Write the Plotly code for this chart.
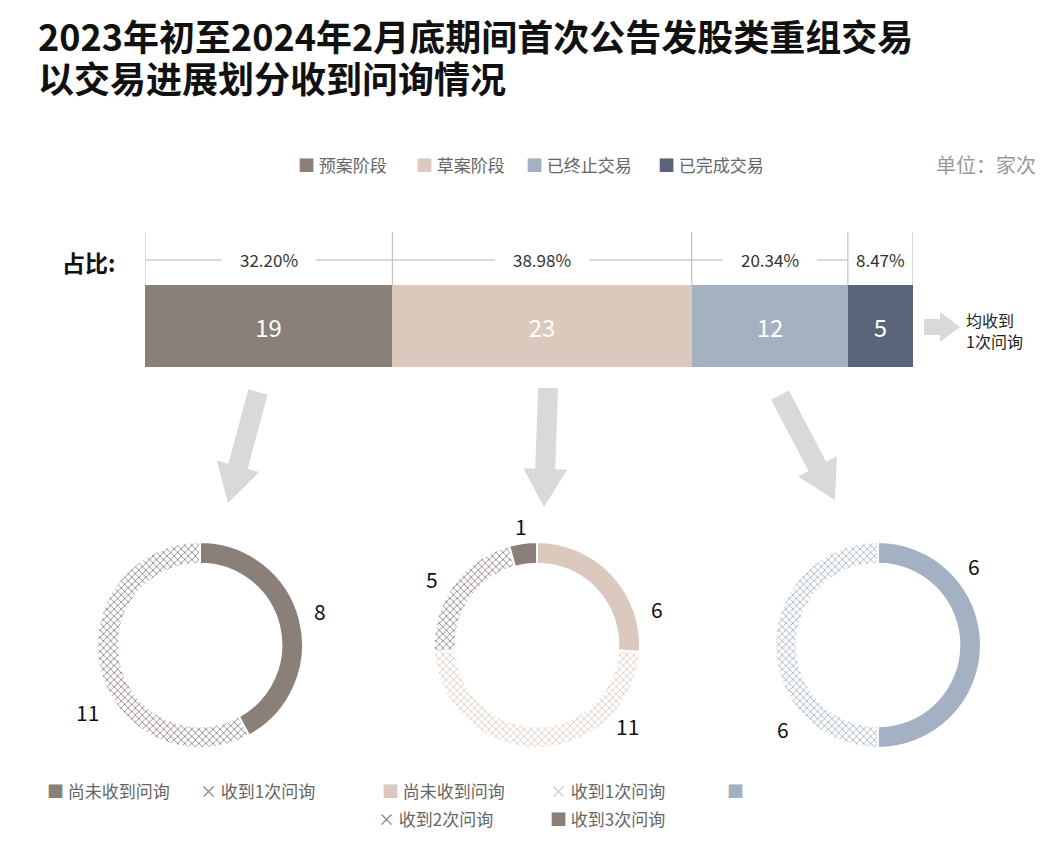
import numpy as np
import plotly.graph_objects as go

W, H = 1059, 843

# data
stages = ['预案阶段', '草案阶段', '已终止交易', '已完成交易']
stage_counts = [19, 23, 12, 5]
stage_pcts = ['32.20%', '38.98%', '20.34%', '8.47%']
stage_colors = ['#8b7f7a', '#dac9bc', '#a3b1c2', '#5a6479']

d1_labels = ['尚未收到问询', '收到1次问询']
d1_values = [8, 11]
d2_labels = ['尚未收到问询', '收到1次问询', '收到2次问询', '收到3次问询']
d2_values = [6, 11, 5, 1]
d3_labels = ['收到1次问询', '收到1次问询 ']
d3_values = [6, 6]

OFF = 8  # page body margin


def px_x(x):
    return (x - OFF) / W


def px_y(y):
    return 1 - (y - OFF) / H


fig = go.Figure()

# stacked bar
for name, v, c in zip(stages, stage_counts, stage_colors):
    fig.add_trace(go.Bar(x=[v], y=[0], orientation='h', marker=dict(color=c, line=dict(width=0)),
                         text=[str(v)], textposition='inside', insidetextanchor='middle',
                         textfont=dict(color='white', size=24), name=name, showlegend=False,
                         width=1, hoverinfo='skip'))

total = sum(stage_counts)
fig.update_layout(barmode='stack', bargap=0,
                  xaxis=dict(domain=[px_x(145), px_x(913)], range=[0, total], visible=False, fixedrange=True),
                  yaxis=dict(domain=[px_y(367), px_y(285)], range=[-0.5, 0.5], visible=False, fixedrange=True))

shapes = []
annotations = []
bounds = np.concatenate([[0], np.cumsum(stage_counts)])
for b in bounds:
    shapes.append(dict(type='line', xref='x', yref='paper', x0=b, x1=b, y0=px_y(232), y1=px_y(285),
                       line=dict(color='#b5b5b5', width=1)))
for i, p in enumerate(stage_pcts):
    mid = (bounds[i] + bounds[i + 1]) / 2
    gap = 3.6 if stage_counts[i] > 6 else 0
    if gap:
        shapes.append(dict(type='line', xref='x', yref='paper', x0=bounds[i], x1=mid - gap,
                           y0=px_y(260), y1=px_y(260), line=dict(color='#b5b5b5', width=1)))
        shapes.append(dict(type='line', xref='x', yref='paper', x0=mid + gap, x1=bounds[i + 1],
                           y0=px_y(260), y1=px_y(260), line=dict(color='#b5b5b5', width=1)))
    annotations.append(dict(xref='x', yref='paper', x=mid, y=px_y(260), text=p, showarrow=False,
                            xanchor='center', yanchor='middle', font=dict(size=17, color='#333')))


def arrow(x0, y0, x1, y1, w=14, hw=30, hl=32):
    d = np.array([x1 - x0, y1 - y0], float)
    L = np.hypot(*d)
    u = d / L
    n = np.array([-u[1], u[0]])
    s = np.array([x0, y0])
    b = s + u * (L - hl)
    e = np.array([x1, y1])
    pts = [s + n * w / 2, b + n * w / 2, b + n * hw / 2, e, b - n * hw / 2, b - n * w / 2, s - n * w / 2]
    return 'M ' + ' L '.join(f'{px_x(p[0]):.4f},{px_y(p[1]):.4f}' for p in pts) + ' Z'


for a in [(258, 392, 228, 503, 20, 44, 38), (548, 388, 544, 507, 20, 44, 38),
          (780, 395, 835, 500, 20, 44, 38), (924, 327, 960, 327, 16, 30, 20)]:
    shapes.append(dict(type='path', xref='paper', yref='paper', path=arrow(*a),
                       fillcolor='#d9d9d9', line=dict(width=0)))


# donuts
def donut(values, labels, colors, patterns, fgs, cx, cy, label_frac, label_r, r=103):
    fig.add_trace(go.Pie(values=values, labels=labels, sort=False, direction='clockwise', rotation=0,
                         hole=0.79, domain=dict(x=[px_x(cx - r), px_x(cx + r)], y=[px_y(cy + r), px_y(cy - r)]),
                         marker=dict(colors=colors, line=dict(color='white', width=2),
                                     pattern=dict(shape=patterns, fgcolor=fgs, bgcolor='white',
                                                  size=5, solidity=0.3)),
                         textinfo='none', showlegend=False, hoverinfo='label+value'))
    tot = sum(values)
    start = 0
    for v, f, rr in zip(values, label_frac, label_r):
        ang = np.radians((start + v * f) / tot * 360)
        start += v
        annotations.append(dict(x=px_x(cx + rr * np.sin(ang)), y=px_y(cy - rr * np.cos(ang)), text=str(v),
                                xanchor='center', yanchor='middle', font=dict(size=21, color='#111')))


donut(d1_values, d1_labels, ['#8b7f7a', 'white'], ['', 'x'], ['#8b7f7a', '#8b7f7a'], 200, 645,
      [0.49, 0.42], [125, 131])
donut(d2_values, d2_labels, ['#dac9bc', 'white', 'white', '#8b7f7a'], ['', 'x', 'x', ''],
      ['#dac9bc', '#dac9bc', '#8b7f7a', '#8b7f7a'], 537, 645, [0.78, 0.22, 0.46, 0.5], [125, 121, 124, 120])
donut(d3_values, d3_labels, ['#a3b1c2', 'white'], ['', 'x'], ['#a3b1c2', '#a3b1c2'], 878, 645,
      [0.28, 0.27], [124, 127])

# text
annotations += [
    dict(x=px_x(36), y=px_y(35), text='<b>2023年初至2024年2月底期间首次公告发股类重组交易</b>', xanchor='left',
         font=dict(size=36, color='#111')),
    dict(x=px_x(36), y=px_y(77), text='<b>以交易进展划分收到问询情况</b>', xanchor='left',
         font=dict(size=36, color='#111')),
    dict(x=px_x(60), y=px_y(262), text='<b>占比:</b>', xanchor='left', font=dict(size=23, color='#111')),
    dict(x=px_x(1038), y=px_y(165), text='单位：家次', xanchor='right', font=dict(size=20, color='#999')),
    dict(x=px_x(964), y=px_y(330), text='均收到<br>1次问询', xanchor='left', align='left',
         font=dict(size=16, color='#222')),
]

top_leg = [(296, '#8b7f7a', '预案阶段'), (414, '#dac9bc', '草案阶段'), (524, '#a3b1c2', '已终止交易'),
           (656, '#5a6479', '已完成交易')]
bot_leg = [(45, 790, '#8b7f7a', '■', '尚未收到问询'), (198, 790, '#8b7f7a', '×', '收到1次问询'),
           (380, 790, '#dac9bc', '■', '尚未收到问询'), (548, 790, '#d5cbc4', '×', '收到1次问询'),
           (376, 818, '#8b7f7a', '×', '收到2次问询'), (548, 818, '#8b7f7a', '■', '收到3次问询'),
           (725, 790, '#a3b1c2', '■', '')]
for x, c, t in top_leg:
    annotations.append(dict(x=px_x(x), y=px_y(165), xanchor='left',
                            text=f'<span style="color:{c}">■</span> {t}', font=dict(size=17, color='#666')))
for x, y, c, m, t in bot_leg:
    annotations.append(dict(x=px_x(x), y=px_y(y), xanchor='left',
                            text=f'<span style="color:{c}">{m}</span> {t}', font=dict(size=17, color='#666')))

for a in annotations:
    a.setdefault('xref', 'paper')
    a.setdefault('yref', 'paper')
    a.setdefault('showarrow', False)
    a.setdefault('yanchor', 'middle')

fig.update_layout(width=W, height=H, margin=dict(l=0, r=0, t=0, b=0), paper_bgcolor='white',
                  plot_bgcolor='white', shapes=shapes, annotations=annotations,
                  font=dict(family='Noto Sans CJK SC, Noto Sans, sans-serif'))

fig.write_html('out.html')
